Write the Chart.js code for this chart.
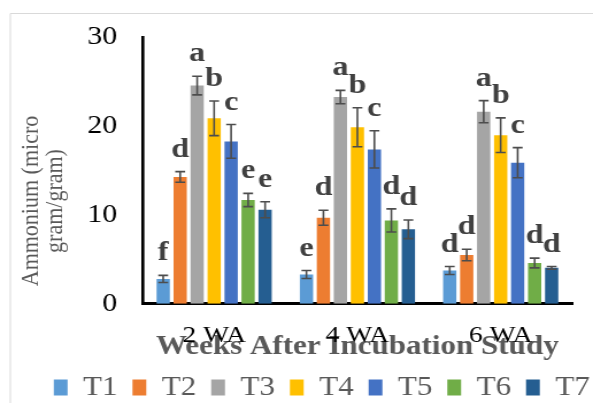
<!DOCTYPE html>
<html>
<head>
<meta charset="utf-8">
<script src="https://cdn.jsdelivr.net/npm/chart.js@4/dist/chart.umd.min.js"></script>
<style>
  html, body { margin: 0; padding: 0; background: #fff; overflow: hidden; }
  /* the reference is stretched sideways, so draw narrow and widen */
  #myChart { display: block; transform: scaleX(1.1492); transform-origin: 0 0; }
</style>
</head>
<body>
<canvas id="myChart" width="516" height="403"></canvas>
<script>
var categories = ['2 WA', '4 WA', '6 WA'];
var treatments = ['T1', 'T2', 'T3', 'T4', 'T5', 'T6', 'T7'];
var colors = ['#5B9BD5', '#ED7D31', '#A5A5A5', '#FFC000', '#4472C4', '#70AD47', '#255E91'];

// ammonium values per treatment (2, 4, 6 WA)
var t1 = [2.8, 3.3, 3.75];
var t2 = [14.3, 9.7, 5.5];
var t3 = [24.6, 23.3, 21.65];
var t4 = [20.9, 19.9, 19.0];
var t5 = [18.3, 17.4, 15.9];
var t6 = [11.7, 9.4, 4.6];
var t7 = [10.6, 8.4, 4.05];

// error bars
var e1 = [0.4, 0.45, 0.45];
var e2 = [0.6, 0.85, 0.65];
var e3 = [1.05, 0.75, 1.25];
var e4 = [1.95, 2.2, 1.95];
var e5 = [1.9, 2.1, 1.7];
var e6 = [0.75, 1.3, 0.55];
var e7 = [0.9, 1.05, 0.15];

// significance letters
var l1 = ['f', 'e', 'd'];
var l2 = ['d', 'd', 'd'];
var l3 = ['a', 'a', 'a'];
var l4 = ['b', 'b', 'b'];
var l5 = ['c', 'c', 'c'];
var l6 = ['e', 'd', 'd'];
var l7 = ['e', 'd', 'd'];

var yTicks = [0, 10, 20, 30];

var values = [t1, t2, t3, t4, t5, t6, t7];
var errors = [e1, e2, e3, e4, e5, e6, e7];
var letters = [l1, l2, l3, l4, l5, l6, l7];

var datasets = treatments.map(function(name, i) {
    return {
        label: name,
        data: values[i],
        errors: errors[i],
        letters: letters[i],
        backgroundColor: colors[i],
        borderWidth: 0,
        barPercentage: 0.78,
        categoryPercentage: 0.83
    };
});

var serif = '"Liberation Serif", "Times New Roman", serif';

var extras = {
    id: 'extras',
    afterLayout: function(chart) {
        // legend sits a bit right of and below where Chart.js centres it
        var lg = chart.legend;
        lg.left += 31; lg.right += 31;
        lg.top += 8; lg.bottom += 8;
    },
    beforeDraw: function(chart) {
        var c = chart.ctx;
        c.save();
        c.fillStyle = '#fff';
        c.fillRect(0, 0, chart.width, chart.height);
        // faint chart frame, top and left
        c.strokeStyle = '#d9d9d9';
        c.lineWidth = 1;
        c.beginPath();
        c.moveTo(9, chart.height);
        c.lineTo(9, 13.5);
        c.lineTo(chart.width, 13.5);
        c.stroke();
        c.restore();
    },
    afterDatasetsDraw: function(chart) {
        var c = chart.ctx;
        var y = chart.scales.y;
        c.save();
        chart.data.datasets.forEach(function(ds, i) {
            var meta = chart.getDatasetMeta(i);
            meta.data.forEach(function(bar, j) {
                var v = ds.data[j], e = ds.errors[j];
                var top = y.getPixelForValue(v + e);
                var bot = y.getPixelForValue(v - e);
                c.strokeStyle = '#4d4d4d';
                c.lineWidth = 1.6;
                c.beginPath();
                c.moveTo(bar.x, top); c.lineTo(bar.x, bot);
                c.moveTo(bar.x - 4.3, top); c.lineTo(bar.x + 4.3, top);
                c.moveTo(bar.x - 4.3, bot); c.lineTo(bar.x + 4.3, bot);
                c.stroke();
                c.fillStyle = '#404040';
                c.font = 'bold 28px ' + serif;
                c.textAlign = 'center';
                c.textBaseline = 'alphabetic';
                c.fillText(ds.letters[j], bar.x, top - 15);
            });
        });
        c.restore();
    },
    afterDraw: function(chart) {
        var c = chart.ctx;
        c.save();
        c.fillStyle = '#595959';
        c.font = '22px ' + serif;
        c.textAlign = 'center';
        c.textBaseline = 'alphabetic';
        c.translate(32.5, 201);
        c.rotate(-Math.PI / 2);
        c.fillText('Ammonium (micro', 0, 0);
        c.fillText('gram/gram)', 0, 21);
        c.restore();
    }
};

var ctx = document.getElementById('myChart').getContext('2d');

var chart = new Chart(ctx, {
    type: 'bar',
    data: {
        labels: categories,
        datasets: datasets
    },
    plugins: [extras],
    options: {
        responsive: false,
        animation: false,
        layout: { padding: { left: 0, right: 18, top: 33, bottom: 0 } },
        plugins: {
            tooltip: { enabled: false },
            legend: {
                position: 'bottom',
                labels: {
                    font: { family: serif, size: 27 },
                    color: '#595959',
                    boxWidth: 12,
                    boxHeight: 16,
                    padding: 13
                }
            }
        },
        scales: {
            x: {
                grid: { display: false, drawTicks: false },
                border: { display: true, color: '#000', width: 3 },
                ticks: {
                    font: { family: serif, size: 24 },
                    color: '#000',
                    padding: 18
                },
                title: {
                    display: true,
                    text: 'Weeks After Incubation Study',
                    font: { family: serif, size: 27, weight: 'bold' },
                    color: '#595959',
                    padding: { top: -38, bottom: -10 }
                }
            },
            y: {
                min: 0,
                max: 30,
                afterFit: function(s) { s.width = 124; },
                afterBuildTicks: function(s) {
                    s.ticks = yTicks.map(function(v) { return { value: v }; });
                },
                grid: { display: false, drawTicks: false },
                border: { display: true, color: '#000', width: 2.6 },
                ticks: {
                    font: { family: serif, size: 26 },
                    color: '#000',
                    padding: 22
                }
            }
        }
    }
});
</script>
</body>
</html>
